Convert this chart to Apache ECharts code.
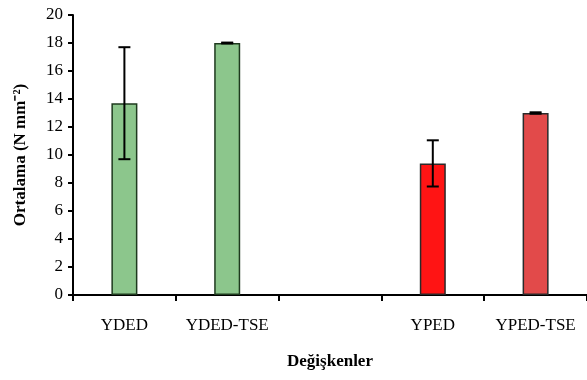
<!DOCTYPE html>
<html>
<head>
<meta charset="utf-8">
<script src="https://cdn.jsdelivr.net/npm/echarts@6/dist/echarts.min.js"></script>
<style>
  html, body { margin: 0; padding: 0; background: #fff; }
  #chart { width: 587px; height: 380px; }
</style>
</head>
<body>
<div id="chart"></div>
<script>
// values
const categories = ['YDED', 'YDED-TSE', '', 'YPED', 'YPED-TSE'];
const means = [13.7, 18.0, null, 9.4, 13.0];
const errors = [4.0, 0.03, null, 1.65, 0.05];
const barColors = ['#8cc68c', '#8cc68c', '#ffffff', '#ff1414', '#e24a4a'];
const yTicks = [0, 2, 4, 6, 8, 10, 12, 14, 16, 18, 20];

const chart = echarts.init(document.getElementById('chart'), null, { renderer: 'canvas' });

const font = '"Liberation Serif", "Times New Roman", serif';

const option = {
    backgroundColor: '#ffffff',
    animation: false,
    grid: { left: 73, right: -3, top: 15, bottom: 85 },
    xAxis: {
        type: 'category',
        data: categories,
        name: 'Değişkenler',
        nameLocation: 'middle',
        nameGap: 58,
        nameTextStyle: { fontFamily: font, fontWeight: 'bold', fontSize: 17, color: '#000' },
        axisLine: { lineStyle: { color: '#000', width: 2 } },
        axisTick: { show: true, interval: 0, length: 6, lineStyle: { color: '#000', width: 2 } },
        axisLabel: { interval: 0, hideOverlap: false, fontFamily: font, fontSize: 17, color: '#000', margin: 22 }
    },
    yAxis: {
        type: 'value',
        min: yTicks[0],
        max: yTicks[yTicks.length - 1],
        interval: 2,
        name: 'Ortalama (N mm⁻²)',
        nameLocation: 'middle',
        nameGap: 44,
        nameTextStyle: { fontFamily: font, fontWeight: 'bold', fontSize: 17, color: '#000' },
        axisLine: { show: true, lineStyle: { color: '#000', width: 2 } },
        axisTick: { show: true, length: 5, lineStyle: { color: '#000', width: 2 } },
        axisLabel: { fontFamily: font, fontSize: 17, color: '#000', margin: 10 },
        splitLine: { show: false }
    },
    series: [
        {
            type: 'bar',
            barWidth: 26,
            data: means.map((v, i) => ({
                value: v,
                itemStyle: {
                    color: barColors[i],
                    borderColor: i < 2 ? '#1e3a1e' : '#2a2a2a',
                    borderWidth: 1.5
                }
            }))
        },
        {
            type: 'custom',
            z: 10,
            data: means.map((v, i) => v == null ? [i, null, null] : [i, v - errors[i], v + errors[i]]),
            renderItem: function (params, api) {
                if (api.value(1) == null || isNaN(api.value(1))) return;
                const lo = api.coord([api.value(0), api.value(1)]);
                const hi = api.coord([api.value(0), api.value(2)]);
                const half = 6;
                const style = { stroke: '#000', lineWidth: 2 };
                return {
                    type: 'group',
                    children: [
                        { type: 'line', shape: { x1: lo[0], y1: lo[1], x2: hi[0], y2: hi[1] }, style: style },
                        { type: 'line', shape: { x1: lo[0] - half, y1: lo[1], x2: lo[0] + half, y2: lo[1] }, style: style },
                        { type: 'line', shape: { x1: hi[0] - half, y1: hi[1], x2: hi[0] + half, y2: hi[1] }, style: style }
                    ]
                };
            }
        }
    ]
};

chart.setOption(option);
</script>
</body>
</html>
